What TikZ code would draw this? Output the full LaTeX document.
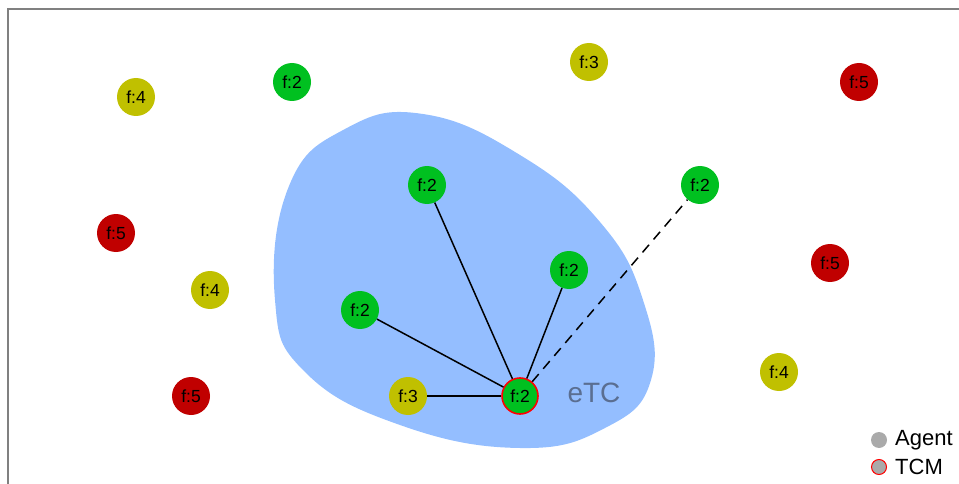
\documentclass[tikz,border=0pt]{standalone}
\usepackage{fontspec}
\setmainfont{Liberation Sans}
\definecolor{agG}{RGB}{0,192,32}
\definecolor{agY}{RGB}{192,192,0}
\definecolor{agR}{RGB}{192,0,0}
\definecolor{blob}{RGB}{148,190,255}
\definecolor{etc}{RGB}{90,110,145}
\definecolor{frame}{RGB}{128,128,128}
\definecolor{leg}{RGB}{170,170,170}
\begin{document}
\begin{tikzpicture}[x=1pt,y=-1pt,
  agent/.style={circle,minimum size=38pt,inner sep=0pt,font=\fontsize{17.5}{17.5}\selectfont},
  green/.style={agent,fill=agG},
  yellow/.style={agent,fill=agY},
  red/.style={agent,fill=agR},
  tcm/.style={agent,fill=agG,draw=red,line width=1.6pt,minimum size=36pt},
  link/.style={line width=1.5pt},
  weak/.style={line width=1.5pt,dash pattern=on 10pt off 7pt},
  legdot/.style={circle,minimum size=16pt,inner sep=0pt,fill=leg},
  legtext/.style={anchor=west,inner sep=0pt,font=\fontsize{22}{22}\selectfont}]
\useasboundingbox (0,0) rectangle (959,484);
\draw[frame,line width=2pt] (8,484) -- (8,9) -- (959,9);
% eTC region
\fill[blob] plot[smooth cycle,tension=0.75] coordinates {(423,114) (520,155) (600,222) (643,300) (651,380) (605,428) (520,448) (400,425) (305,372) (275,300) (289,186) (345,129)};
\node[text=etc,font=\fontsize{28}{28}\selectfont] (etc) at (594,393) {eTC};
% agents
\node[yellow] (a1) at (136,97) {f:4};
\node[green] (a2) at (292,82) {f:2};
\node[yellow] (a3) at (589,62) {f:3};
\node[red] (a4) at (859,82) {f:5};
\node[red] (a5) at (116,233) {f:5};
\node[yellow] (a6) at (210,290) {f:4};
\node[red] (a7) at (191,396) {f:5};
\node[green] (b1) at (427,185) {f:2};
\node[green] (b2) at (700,185) {f:2};
\node[green] (b3) at (569,270) {f:2};
\node[red] (a8) at (830,263) {f:5};
\node[green] (b4) at (360,310) {f:2};
\node[yellow] (b5) at (408,396) {f:3};
\node[yellow] (a9) at (779,372) {f:4};
\node[tcm] (t) at (520,396) {f:2};
% links
\draw[link] (t) -- (b1);
\draw[link] (t) -- (b3);
\draw[link] (t) -- (b4);
\draw[link] (t) -- (b5);
\draw[weak] (t) -- (b2);
% legend
\node[legdot] (l1) at (879,440) {};
\node[legdot,draw=red,line width=1pt,minimum size=15pt] (l2) at (879,467) {};
\node[legtext] (l1t) at (895,440) {Agent};
\node[legtext] (l2t) at (895,467) {TCM};
\end{tikzpicture}
\end{document}
